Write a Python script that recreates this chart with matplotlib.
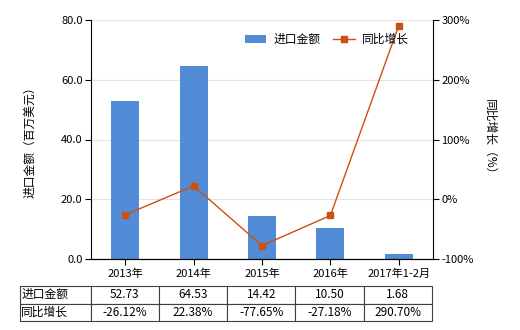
import matplotlib
matplotlib.use("Agg")
import matplotlib.pyplot as plt
from matplotlib.ticker import FuncFormatter

plt.rcParams['font.family'] = ['Noto Sans CJK SC', 'DejaVu Sans']
plt.rcParams['font.size'] = 8

categories = ["2013年", "2014年", "2015年", "2016年", "2017年1-2月"]
import_values = [52.73, 64.53, 14.42, 10.50, 1.68]
growth_pct = [-26.12, 22.38, -77.65, -27.18, 290.70]
row_names = ["进口金额", "同比增长"]

bar_color = "#538cd6"
line_color = "#cd5011"

fig = plt.figure(figsize=(5.2, 3.3), dpi=100)
ax = fig.add_axes([91 / 520, 1 - 259 / 330, 342 / 520, 239 / 330])
x = list(range(len(categories)))

ax.bar(x, import_values, width=0.41, color=bar_color, label="进口金额", zorder=2)
ax.set_ylim(0, 80)
ax.set_yticks([0, 20, 40, 60, 80])
ax.yaxis.set_major_formatter(FuncFormatter(lambda v, p: f"{v:.1f}"))
ax.set_xlim(-0.5, len(categories) - 0.5)
ax.set_xticks(x)
ax.set_xticklabels(categories)
ax.grid(axis="y", color="#e3e3e3", linewidth=0.8, zorder=0)
ax.spines["top"].set_visible(False)
ax.spines["right"].set_visible(False)
ax.tick_params(axis="both", length=4, width=0.8, pad=2)
ax.tick_params(axis="x", pad=3)
ax.set_ylabel("进口金额（百万美元）", labelpad=18, fontsize=8.5)

ax2 = ax.twinx()
ax2.plot(x, growth_pct, color=line_color, linewidth=1, marker="s", markersize=4.5,
         label="同比增长", zorder=3)
ax2.set_ylim(-100, 300)
ax2.set_yticks([-100, 0, 100, 200, 300])
ax2.yaxis.set_major_formatter(FuncFormatter(lambda v, p: f"{v:.0f}%"))
ax2.spines["top"].set_visible(False)
ax2.spines["left"].set_visible(False)
ax2.tick_params(axis="y", length=4, width=0.8, pad=2)
ax2.set_ylabel("同比增长（%）", rotation=270, labelpad=16, fontsize=8.5)

h1, l1 = ax.get_legend_handles_labels()
h2, l2 = ax2.get_legend_handles_labels()
ax2.legend(h1 + h2, l1 + l2, loc="upper right", bbox_to_anchor=(0.96, 0.99), ncol=2,
           frameon=False, handlelength=1.8, handletextpad=0.6, columnspacing=1.1,
           fontsize=8.5)

cell_text = [row_names[:1] + [f"{v:.2f}" for v in import_values],
             row_names[1:] + [f"{v:.2f}%" for v in growth_pct]]
col_w = [70.5] + [68.3] * len(categories)
tbl = ax.table(cellText=cell_text, colWidths=col_w, cellLoc="center",
               bbox=[(20 - 91) / 342, (259 - 321) / 239, 412 / 342, 35 / 239])
tbl.auto_set_font_size(False)
tbl.set_fontsize(8.5)
for (r, c), cell in tbl.get_celld().items():
    cell.set_edgecolor("#404040")
    cell.set_linewidth(0.8)
    if c == 0:
        cell._loc = "left"
        cell.PAD = 0.02
        cell.get_text().set_horizontalalignment("left")

fig.savefig("out.png", dpi=100)
